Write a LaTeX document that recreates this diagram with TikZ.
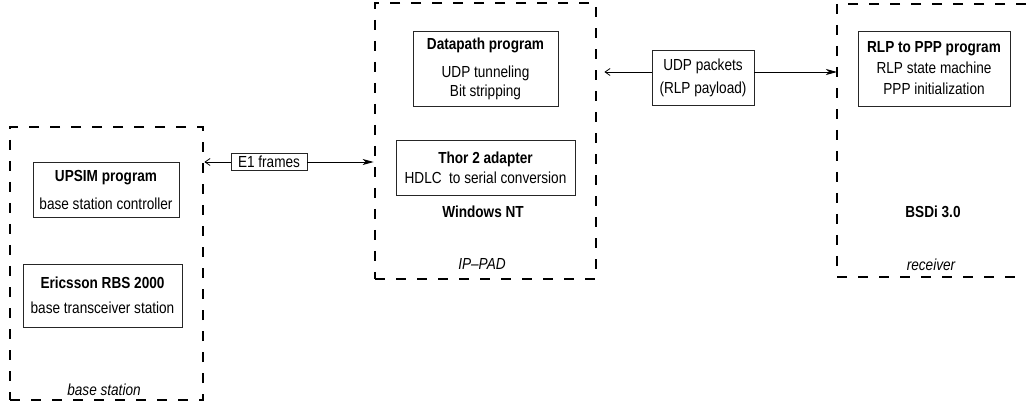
\documentclass[tikz,border=0pt]{standalone}
\usepackage{fontspec}
\setmainfont[FakeStretch=0.85]{Liberation Sans}
\usetikzlibrary{arrows.meta,positioning,calc}

\begin{document}
\begin{tikzpicture}[
    x=1pt, y=-1pt,
    font=\fontsize{16}{19}\selectfont,
    group/.style={draw, line width=2.8pt, dash pattern=on 10pt off 11pt, inner sep=0pt},
    unit/.style={draw=black!85, line width=0.8pt, align=center, inner sep=0pt},
    link/.style={draw=black!85, line width=0.8pt, align=center, inner sep=0pt},
    tag/.style={font=\fontsize{16}{19}\selectfont\itshape, anchor=base},
    back/.style={-{Straight Barb[length=5pt,width=7pt]}, line width=0.8pt},
    fwd/.style={-{Stealth[length=11pt,width=6pt,inset=3pt]}, line width=0.8pt}
  ]
    \useasboundingbox (0,0) rectangle (1026,406);
    % Base station (left)
    \node[group, minimum width=193pt, minimum height=273pt] (bs) at (106.5,263.5) {};
    \node[unit, minimum width=146pt, minimum height=55pt] (upsim) at (106,189.5)
      {\bfseries UPSIM program\\[9pt] base station controller};
    \node[unit, minimum width=159pt, minimum height=63pt] (rbs) at (102.5,295.5)
      {\bfseries Ericsson RBS 2000\\[6pt] base transceiver station};
    \node[tag] (bslbl) at (104,395) {base station};
    % IP-PAD (middle)
    \node[group, minimum width=221pt, minimum height=276pt] (ippad) at (485.5,141) {};
    \node[unit, minimum width=145pt, minimum height=75pt] (dpath) at (485.5,68.5)
      {\bfseries Datapath program\\[9pt] UDP tunneling\\ Bit stripping};
    \node[unit, minimum width=179pt, minimum height=55pt] (thor) at (485.5,167.5)
      {\bfseries Thor 2 adapter\\[1pt] HDLC\ \ to serial conversion};
    \node[font=\fontsize{16}{19}\selectfont\bfseries] (winnt) at (483,212) {Windows NT};
    \node[tag] (padlbl) at (482,270) {IP--PAD};
    % Receiver (right, runs off the page)
    \draw[group] (1026,4) -- (837,4) -- (837,277) -- (1026,277);
    \coordinate (rcv) at (837,72);
    \node[unit, minimum width=152pt, minimum height=75pt] (rlp) at (934,68.5)
      {\bfseries RLP to PPP program\\[2pt] RLP state machine\\[2pt] PPP initialization};
    \node[font=\fontsize{16}{19}\selectfont\bfseries] (bsdi) at (933,212) {BSDi 3.0};
    \node[tag] (rcvlbl) at (931,271) {receiver};
    % Links between the groups
    \node[link, minimum width=76pt, minimum height=17pt] (e1) at (269,162) {E1 frames};
    \draw[back] (e1.west) -- (e1.west -| bs.east);
    \draw[fwd] (e1.east) -- (e1.east -| ippad.west);
    \node[link, minimum width=102pt, minimum height=55pt] (udp) at (703,77.5)
      {UDP packets\\[4pt] (RLP payload)};
    \draw[back] (udp.west |- rcv) -- ($(ippad.east |- rcv)+(7,0)$);
    \draw[fwd] (udp.east |- rcv) -- (rcv);
\end{tikzpicture}
\end{document}
